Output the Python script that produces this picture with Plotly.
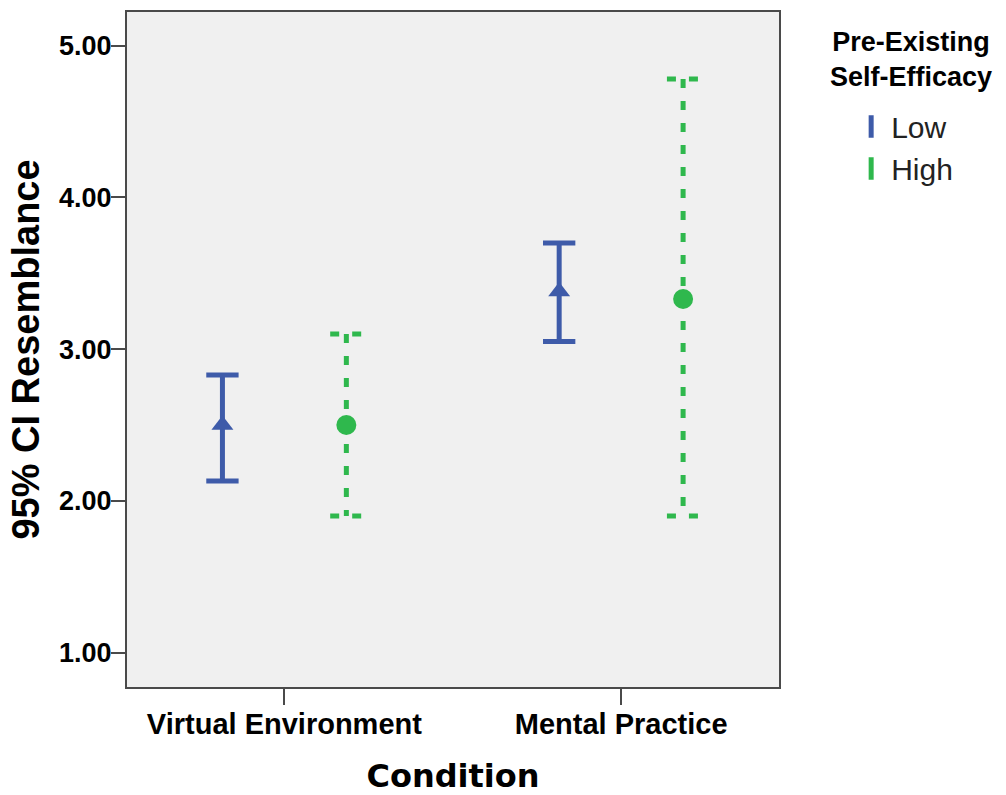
import plotly.graph_objects as go

# ---- data ----
conditions = ["Virtual Environment", "Mental Practice"]
groups = ["Low", "High"]
low_mean = [2.50, 3.38]
low_lower = [2.13, 3.05]
low_upper = [2.83, 3.70]
high_mean = [2.50, 3.33]
high_lower = [1.90, 1.90]
high_upper = [3.10, 4.78]
y_tickvals = [1.0, 2.0, 3.0, 4.0, 5.0]
legend_title = ["Pre-Existing", "Self-Efficacy"]

# ---- styles ----
BLUE = "#3e5ba9"
GREEN = "#2fb84d"
AX = "#4a4a4a"
ARIAL = "Liberation Sans, Arial, sans-serif"
DEJAVU = "DejaVu Sans, sans-serif"
offset = 0.184
cap = 0.048

series = [
    dict(name=groups[0], mean=low_mean, lo=low_lower, hi=low_upper, color=BLUE,
         dash="solid", symbol="triangle-up", msize=19, off=-offset),
    dict(name=groups[1], mean=high_mean, lo=high_lower, hi=high_upper, color=GREEN,
         dash="9px,13px", symbol="circle", msize=20, off=offset),
]

fig = go.Figure()
for s in series:
    xs, ys = [], []
    for i in range(len(conditions)):
        x = i + s["off"]
        xs += [x, x, None, x - cap, x + cap, None, x - cap, x + cap, None]
        ys += [s["hi"][i], s["lo"][i], None, s["hi"][i], s["hi"][i], None,
               s["lo"][i], s["lo"][i], None]
    fig.add_trace(go.Scatter(x=xs, y=ys, mode="lines", showlegend=False,
                             line=dict(color=s["color"], width=5, dash=s["dash"]),
                             hoverinfo="skip", connectgaps=False))
    fig.add_trace(go.Scatter(x=[i + s["off"] for i in range(len(conditions))], y=s["mean"],
                             mode="markers", showlegend=False,
                             marker=dict(symbol=s["symbol"], size=s["msize"], color=s["color"],
                                         line=dict(width=0))))
    # legend entry
    fig.add_trace(go.Scatter(x=[None], y=[None], mode="markers", name=s["name"],
                             marker=dict(symbol="line-ns", size=24, color=s["color"],
                                         line=dict(color=s["color"], width=6))))

# legend title
fig.add_annotation(text="<b>%s<br>%s</b>" % (legend_title[0], legend_title[1]),
                   xref="paper", yref="paper", x=1.203, y=0.930,
                   xanchor="center", yanchor="middle", align="center", showarrow=False,
                   font=dict(family=ARIAL, size=27, color="black"))

fig.update_layout(
    width=1006, height=795,
    margin=dict(l=127, r=227, t=12, b=108),
    paper_bgcolor="white",
    plot_bgcolor="#f0f0f0",
    showlegend=True,
    legend=dict(
        font=dict(family=ARIAL, size=30, color="#222222"),
        x=1.08, xanchor="left", y=0.869, yanchor="top",
        bgcolor="rgba(0,0,0,0)", indentation=20, itemwidth=30, tracegroupgap=0,
    ),
    xaxis=dict(
        range=[-0.4674, 1.4688], tickmode="array", tickvals=list(range(len(conditions))),
        ticktext=conditions, ticks="outside", ticklen=16, tickwidth=2, tickcolor=AX,
        showline=True, linecolor=AX, linewidth=2, mirror=True, showgrid=False, zeroline=False,
        tickfont=dict(family=ARIAL, size=29, color="black", weight="bold"),
        ticklabelstandoff=-6,
        title=dict(text="<b>Condition</b>", font=dict(family=DEJAVU, size=32, color="black"),
                   standoff=28),
        automargin=False,
    ),
    yaxis=dict(
        range=[0.773, 5.222], tickmode="array", tickvals=y_tickvals, tickformat=".2f",
        ticks="outside", ticklen=14, tickwidth=2, tickcolor=AX,
        showline=True, linecolor=AX, linewidth=2, mirror=True, showgrid=False, zeroline=False,
        tickfont=dict(family=ARIAL, size=27, color="black", weight="bold"),
        ticklabelstandoff=-6,
        title=dict(text="<b>95% CI Resemblance</b>", font=dict(family=ARIAL, size=38, color="black"),
                   standoff=8),
        automargin=False,
    ),
)

fig.write_html("out.html")
